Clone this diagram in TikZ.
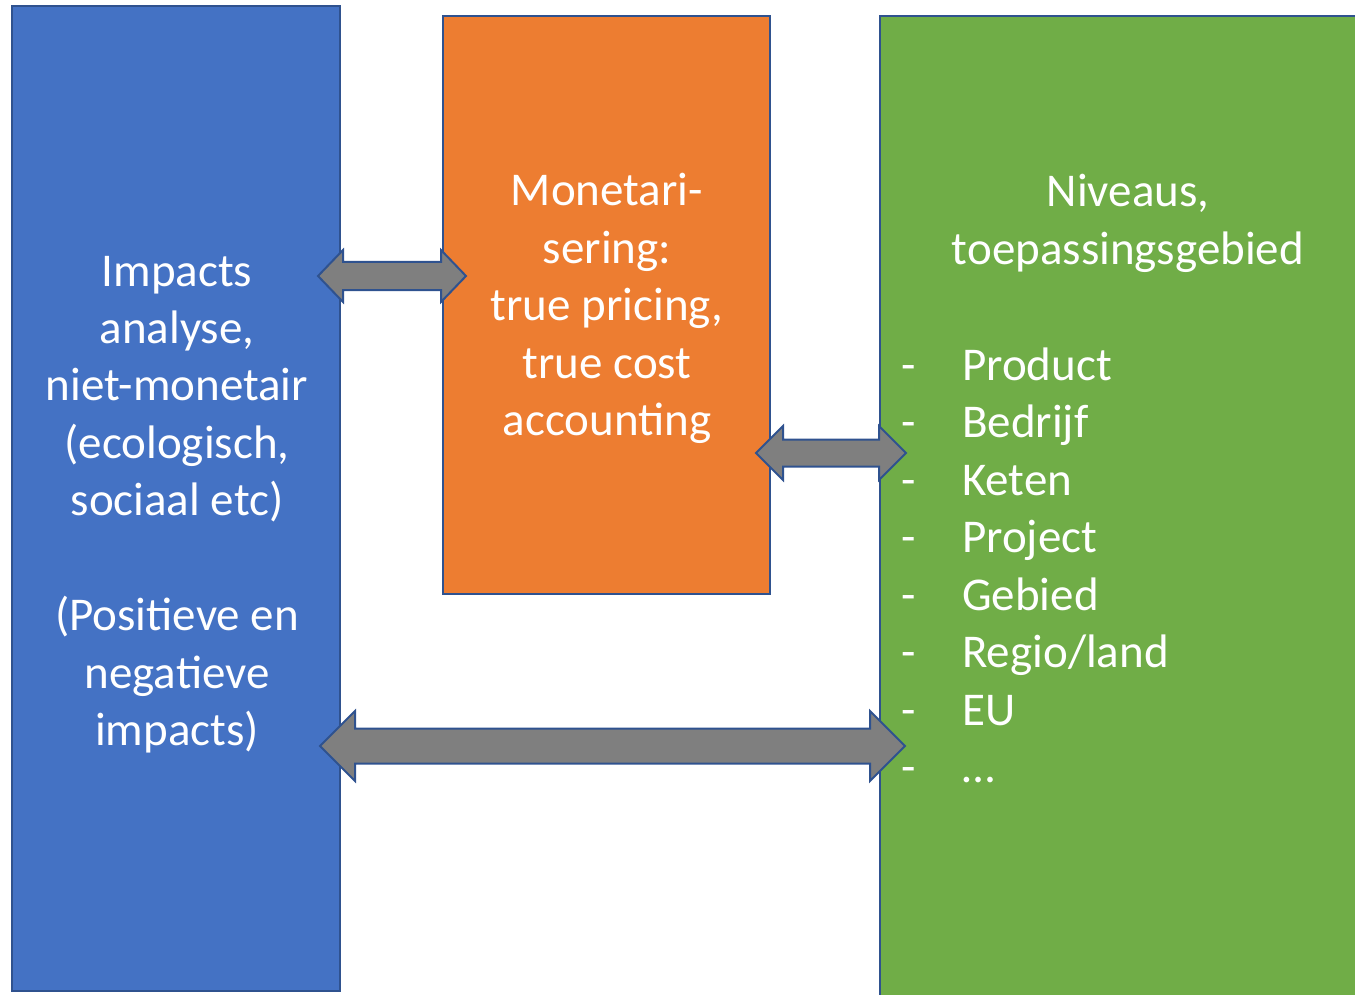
\documentclass[tikz,border=0pt]{standalone}
\usepackage{fontspec}
\setmainfont{Carlito}
\usetikzlibrary{calc}
\definecolor{cblue}{HTML}{4472C4}
\definecolor{corange}{HTML}{ED7D31}
\definecolor{cgreen}{HTML}{70AD47}
\definecolor{cborder}{HTML}{2F528F}
\definecolor{cgray}{HTML}{7F7F7F}
\tikzset{
  panel/.style={draw=cborder, line width=2.5pt, rectangle, inner sep=0pt, outer sep=0pt, anchor=north west},
  txt/.style={text=white, inner sep=0pt, anchor=base, font=\fontsize{47}{57.5}\selectfont},
  dblarrow/.style={draw=cborder, fill=cgray, line width=2pt, line join=miter},
}
% #1 left tip, #2 right tip, #3 shaft half width, #4 head half width, #5 head length
\newcommand\dblarr[5]{%
  \draw[dblarrow] let \p1=(#1), \p2=(#2) in
    (\x1,\y1) -- (\x1+#5,\y1+#4) -- (\x1+#5,\y1+#3) -- (\x2-#5,\y1+#3)
    -- (\x2-#5,\y1+#4) -- (\x2,\y1) -- (\x2-#5,\y1-#4) -- (\x2-#5,\y1-#3)
    -- (\x1+#5,\y1-#3) -- (\x1+#5,\y1-#4) -- cycle;}
\begin{document}
\begin{tikzpicture}[x=1pt,y=-1pt]
\useasboundingbox (0,0) rectangle (1355,995);
% panels
\node[panel, fill=cblue, minimum width=328pt, minimum height=985pt] (impact) at (12,6) {};
\node[panel, fill=corange, minimum width=327pt, minimum height=578pt] (monet) at (443,16) {};
\node[panel, fill=cgreen, minimum width=490pt, minimum height=1000pt] (niveau) at (880,16) {};
% arrow end points
\coordinate (a1l) at (318,276);
\coordinate (a1r) at (466,276);
\coordinate (a2l) at (756,453);
\coordinate (a2r) at (906,453);
\coordinate (a3l) at (320,746);
\coordinate (a3r) at (905,746);
\dblarr{a1l}{a1r}{14pt}{26pt}{25pt}
\dblarr{a2l}{a2r}{13.5pt}{27pt}{27pt}
\dblarr{a3l}{a3r}{17.5pt}{35pt}{35pt}
% texts
\node[txt] (impacttxt) at (177,286) {\begin{tabular}[t]{@{}c@{}}Impacts\\analyse,\\niet-monetair\\(ecologisch,\\sociaal etc)\\ \\(Positieve en\\negatieve\\impacts)\end{tabular}};
\node[txt] (monettxt) at (607,206) {\begin{tabular}[t]{@{}c@{}}Monetari-\\sering:\\true pricing,\\true cost\\accounting\end{tabular}};
\node[txt] (niveautitle) at (1128,207) {\begin{tabular}[t]{@{}c@{}}Niveaus,\\toepassingsgebied\end{tabular}};
\node[txt, anchor=base west] (niveaulist) at (901,380) {\begin{tabular}[t]{@{}l@{}}%
\makebox[61pt][l]{-}Product\\
\makebox[61pt][l]{-}Bedrijf\\
\makebox[61pt][l]{-}Keten\\
\makebox[61pt][l]{-}Project\\
\makebox[61pt][l]{-}Gebied\\
\makebox[61pt][l]{-}Regio/land\\
\makebox[61pt][l]{-}EU\\
\makebox[61pt][l]{-}…\end{tabular}};
\end{tikzpicture}
\end{document}
